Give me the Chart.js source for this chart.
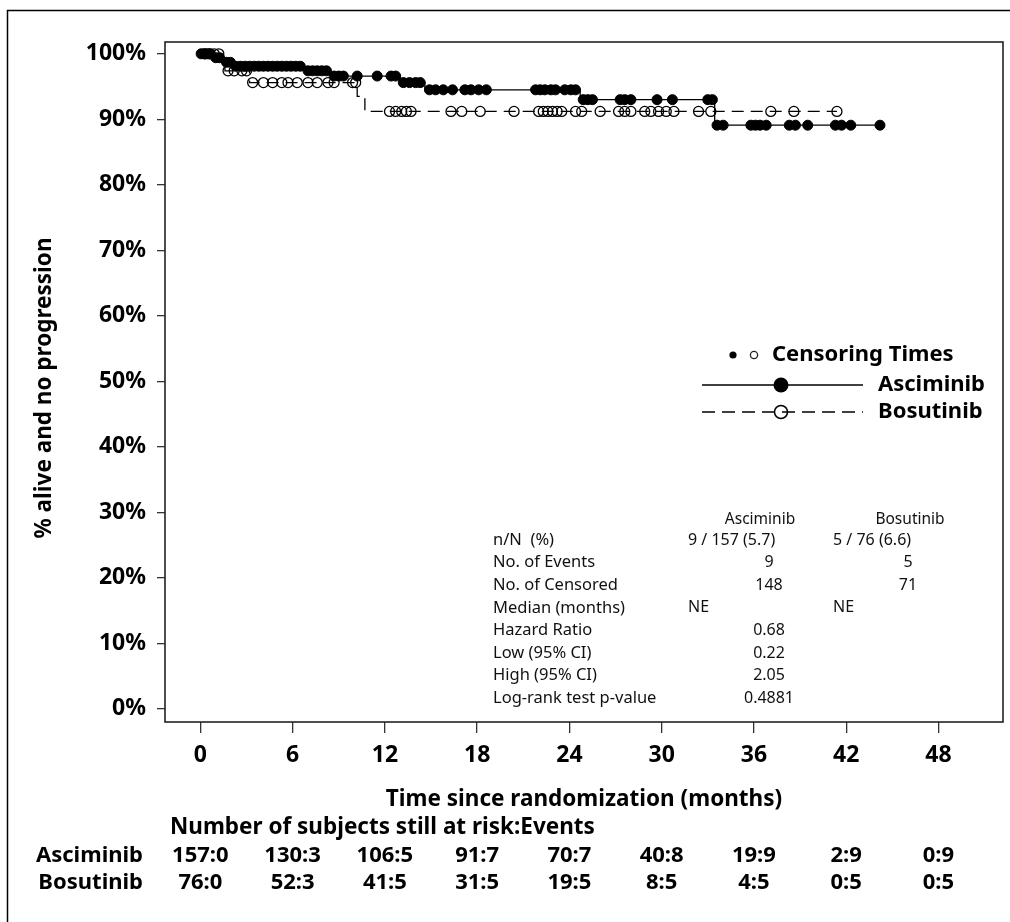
<!DOCTYPE html>
<html>
<head>
<meta charset="utf-8">
<script src="https://cdn.jsdelivr.net/npm/chart.js@4.4.1/dist/chart.umd.min.js"></script>
<style>
  body { margin: 0; background: #fff; }
  canvas { display: block; }
</style>
</head>
<body>
<canvas id="kmChart" width="1010" height="922"></canvas>
<script>
// axis ticks
const xTicks = [0, 6, 12, 18, 24, 30, 36, 42, 48];
const yTicks = [0, 10, 20, 30, 40, 50, 60, 70, 80, 90, 100];

// Asciminib: event times (months) and % after each event, censoring times
const ascEventTimes = [0.9, 1.5, 2.1, 6.8, 8.5, 13.0, 14.6, 24.7, 33.45];
const ascEventSurv = [99.4, 98.7, 98.1, 97.4, 96.6, 95.6, 94.5, 93.0, 89.1];
const ascCensorTimes = [0.05, 0.25, 0.45, 0.65, 1.0, 1.25, 1.7, 1.95,
  2.3, 2.6, 2.9, 3.2, 3.5, 3.8, 4.1, 4.4, 4.7, 5.0, 5.3, 5.6, 5.9, 6.2, 6.5,
  7.0, 7.3, 7.6, 7.9, 8.2, 8.7, 9.0, 9.3, 10.2, 11.5, 12.4, 12.7,
  13.2, 13.6, 14.0, 14.3, 14.9, 15.3, 15.8, 16.4, 17.2, 17.6, 18.1, 18.6,
  21.8, 22.1, 22.4, 22.8, 23.1, 23.7, 24.1, 24.4, 24.9, 25.2, 25.5,
  27.3, 27.6, 28.0, 29.7, 30.7, 33.0, 33.3, 33.6, 34.0, 35.8, 36.1, 36.4,
  36.8, 38.3, 38.7, 39.5, 41.3, 41.7, 42.3, 44.2];

// Bosutinib
const bosEventTimes = [1.4, 1.6, 3.2, 10.2, 10.7];
const bosEventSurv = [98.7, 97.4, 95.6, 93.5, 91.2];
const bosCensorTimes = [0.3, 0.6, 0.9, 1.2, 1.8, 2.2, 2.7, 3.0,
  3.4, 4.1, 4.7, 5.3, 5.7, 6.3, 7.0, 7.6, 8.3, 8.7, 9.9, 10.1,
  12.3, 12.7, 13.1, 13.4, 13.7, 16.3, 17.0, 18.2, 20.4, 22.0, 22.3, 22.6,
  22.9, 23.2, 23.5, 24.4, 24.8, 26.0, 27.2, 27.6, 28.0, 28.9, 29.3, 29.8,
  30.3, 30.8, 32.4, 33.2, 37.1, 38.6, 41.4];

// summary table
const statLabels = ["n/N  (%)", "No. of Events", "No. of Censored", "Median (months)",
  "Hazard Ratio", "Low (95% CI)", "High (95% CI)", "Log-rank test p-value"];
const statAsc = ["9 / 157 (5.7)", "9", "148", "NE", "0.68", "0.22", "2.05", "0.4881"];
const statBos = ["5 / 76 (6.6)", "5", "71", "NE", "", "", "", ""];

// number at risk : events
const riskAsc = ["157:0", "130:3", "106:5", "91:7", "70:7", "40:8", "19:9", "2:9", "0:9"];
const riskBos = ["76:0", "52:3", "41:5", "31:5", "19:5", "8:5", "4:5", "0:5", "0:5"];

const TITLE_FONT = "bold 22.5px 'Noto Sans'";
const LEGEND_FONT = "bold 22px 'Noto Sans'";
const RISK_FONT = "bold 22px 'Noto Sans'";

function levelAt(times, surv, t) {
  let s = 100;
  for (let i = 0; i < times.length; i++) {
    if (times[i] <= t) s = surv[i];
  }
  return s;
}

function buildCurve(evT, evS, cT) {
  let pts = [{ x: 0, y: 100, c: false }];
  evT.forEach((t, i) => pts.push({ x: t, y: evS[i], c: false }));
  cT.forEach((t) => pts.push({ x: t, y: levelAt(evT, evS, t), c: true }));
  pts.sort((a, b) => a.x - b.x || (a.c ? 1 : -1));
  return pts;
}

const framePlugin = {
  id: "framePlugin",
  beforeDraw(chart) {
    const ctx = chart.ctx;
    ctx.save();
    ctx.fillStyle = "#fff";
    ctx.fillRect(0, 0, chart.width, chart.height);
    ctx.strokeStyle = "#000";
    ctx.lineWidth = 1.5;
    ctx.beginPath();
    ctx.moveTo(7.5, 922);
    ctx.lineTo(7.5, 10.5);
    ctx.lineTo(1010, 10.5);
    ctx.stroke();
    ctx.restore();
  },
  afterDraw(chart) {
    const ctx = chart.ctx;
    const a = chart.chartArea;
    const xs = chart.scales.x;
    ctx.save();
    ctx.strokeStyle = "#222";
    ctx.lineWidth = 1.6;
    ctx.strokeRect(a.left, a.top, a.right - a.left, a.bottom - a.top);

    ctx.fillStyle = "#000";
    ctx.textBaseline = "middle";

    // y title
    ctx.save();
    ctx.translate(45, 388);
    ctx.rotate(-Math.PI / 2);
    ctx.textAlign = "center";
    ctx.font = TITLE_FONT;
    ctx.fillText("% alive and no progression", 0, 0);
    ctx.restore();

    // x title
    ctx.textAlign = "center";
    ctx.font = TITLE_FONT;
    ctx.fillText("Time since randomization (months)", (a.left + a.right) / 2, 800);

    // at risk table
    ctx.textAlign = "left";
    ctx.fillText("Number of subjects still at risk:Events", 170, 828);
    ctx.font = RISK_FONT;
    ctx.textAlign = "right";
    ctx.fillText("Asciminib", 143, 856);
    ctx.fillText("Bosutinib", 143, 883);
    ctx.textAlign = "center";
    xTicks.forEach((t, i) => {
      const px = xs.getPixelForValue(t);
      ctx.fillText(riskAsc[i], px, 856);
      ctx.fillText(riskBos[i], px, 883);
    });

    // legend
    ctx.beginPath();
    ctx.arc(733, 355, 3.6, 0, Math.PI * 2);
    ctx.fill();
    ctx.lineWidth = 1.3;
    ctx.beginPath();
    ctx.arc(754, 355, 3.6, 0, Math.PI * 2);
    ctx.stroke();
    ctx.textAlign = "left";
    ctx.font = LEGEND_FONT;
    ctx.fillText("Censoring Times", 772, 355);

    ctx.strokeStyle = "#000";
    ctx.lineWidth = 1.3;
    ctx.beginPath();
    ctx.moveTo(702, 385);
    ctx.lineTo(863, 385);
    ctx.stroke();
    ctx.beginPath();
    ctx.arc(781, 385, 7.5, 0, Math.PI * 2);
    ctx.fill();
    ctx.fillText("Asciminib", 878, 385);

    ctx.setLineDash([13, 7]);
    ctx.beginPath();
    ctx.moveTo(702, 412);
    ctx.lineTo(863, 412);
    ctx.stroke();
    ctx.setLineDash([]);
    ctx.lineWidth = 1.5;
    ctx.beginPath();
    ctx.arc(781, 412, 6.5, 0, Math.PI * 2);
    ctx.stroke();
    ctx.fillText("Bosutinib", 878, 412);

    // summary stats
    ctx.fillStyle = "#111";
    ctx.font = "15.5px 'Noto Sans'";
    ctx.textAlign = "center";
    ctx.fillText("Asciminib", 760, 520);
    ctx.fillText("Bosutinib", 910, 520);
    statLabels.forEach((lab, i) => {
      const y = 540 + i * 22.6;
      ctx.font = "16.5px 'Noto Sans'";
      ctx.textAlign = "left";
      ctx.fillText(lab, 493, y);
      ctx.font = "16px 'Noto Sans'";
      [[statAsc[i], 688, 769], [statBos[i], 833, 908]].forEach(([v, lx, cx]) => {
        if (!v) return;
        if (v.includes("/") || v === "NE") {
          ctx.textAlign = "left";
          ctx.fillText(v, lx, y);
        } else {
          ctx.textAlign = "center";
          ctx.fillText(v, cx, y);
        }
      });
    });
    ctx.restore();
  },
};

const ctx = document.getElementById("kmChart").getContext("2d");

new Chart(ctx, {
  type: "scatter",
  data: {
    datasets: [
      {
        label: "Asciminib",
        data: buildCurve(ascEventTimes, ascEventSurv, ascCensorTimes),
        showLine: true,
        stepped: true,
        borderColor: "#000",
        borderWidth: 1.3,
        pointStyle: "circle",
        pointRadius: (c) => (c.raw && c.raw.c ? 5 : 0),
        pointBackgroundColor: "#000",
        pointBorderColor: "#000",
        pointBorderWidth: 1,
      },
      {
        label: "Bosutinib",
        data: buildCurve(bosEventTimes, bosEventSurv, bosCensorTimes),
        showLine: true,
        stepped: true,
        borderColor: "#000",
        borderWidth: 1.3,
        borderDash: [12, 7],
        pointStyle: "circle",
        pointRadius: (c) => (c.raw && c.raw.c ? 5 : 0),
        pointBackgroundColor: "rgba(0,0,0,0)",
        pointBorderColor: "#000",
        pointBorderWidth: 1.3,
      },
    ],
  },
  options: {
    responsive: false,
    animation: false,
    devicePixelRatio: 1,
    layout: { padding: { top: 42, right: 7, left: 0, bottom: 0 } },
    plugins: { legend: { display: false }, tooltip: { enabled: false } },
    scales: {
      x: {
        type: "linear",
        min: -2.3,
        max: 52.2,
        afterBuildTicks: (s) => { s.ticks = xTicks.map((v) => ({ value: v })); },
        afterFit: (s) => { s.height = 200; },
        border: { display: false },
        grid: { drawOnChartArea: false, drawTicks: true, tickLength: 11, color: "#333", lineWidth: 1.3 },
        ticks: { color: "#000", font: { family: "'Noto Sans'", size: 23, weight: "bold" }, padding: 9, maxRotation: 0 },
      },
      y: {
        min: -2,
        max: 101.8,
        afterBuildTicks: (s) => { s.ticks = yTicks.map((v) => ({ value: v })); },
        afterFit: (s) => { s.width = 165; },
        border: { display: false },
        grid: { drawOnChartArea: false, drawTicks: true, tickLength: 8, color: "#333", lineWidth: 1.3 },
        ticks: { color: "#000", font: { family: "'Noto Sans'", size: 23, weight: "bold" }, padding: 11, callback: (v) => v + "%" },
      },
    },
  },
  plugins: [framePlugin],
});
</script>
</body>
</html>
